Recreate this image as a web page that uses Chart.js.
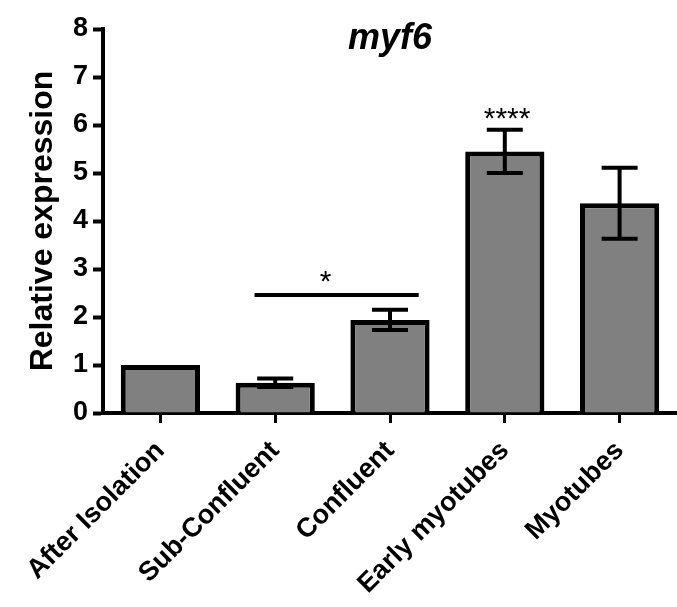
<!DOCTYPE html>
<html>
<head>
<meta charset="utf-8">
<script src="https://cdn.jsdelivr.net/npm/chart.js@4/dist/chart.umd.min.js"></script>
<style>
    html, body { margin: 0; padding: 0; background: #fff; }
    #wrap { width: 677px; height: 607px; }
</style>
</head>
<body>
<div id="wrap"><canvas id="myf6Chart" width="677" height="607"></canvas></div>
<script>
// Values
const stages = ['After Isolation', 'Sub-Confluent', 'Confluent', 'Early myotubes', 'Myotubes'];
const meanExpression = [1.0, 0.63, 1.94, 5.45, 4.37];
const errExpression = [0, 0.09, 0.21, 0.45, 0.74];
const yTicks = [0, 1, 2, 3, 4, 5, 6, 7, 8];

// significance marks: bracket (category index range, y value) and star labels
const sigBracket = { from: 0.82, to: 2.25, y: 2.46 };
const sigLabels = ['*', '****'];
const sigLabelX = [1.44, 3.02];
const sigLabelY = [2.9, 6.3];

const FONT = "'Liberation Sans', Arial, sans-serif";
Chart.defaults.color = '#000';
Chart.defaults.font.family = FONT;

// Draw error bars (mean +/- err) from the data arrays
const errorBarPlugin = {
    id: 'errorBars',
    afterDatasetsDraw(chart) {
        const ctx = chart.ctx;
        const x = chart.scales.x, y = chart.scales.y;
        ctx.save();
        ctx.strokeStyle = '#000';
        ctx.lineWidth = 4;
        ctx.lineCap = 'butt';
        meanExpression.forEach((m, i) => {
            const e = errExpression[i];
            if (!e) return;
            const cx = x.getPixelForValue(i);
            const top = y.getPixelForValue(m + e);
            const bot = y.getPixelForValue(m - e);
            const half = 18;
            ctx.beginPath();
            ctx.moveTo(cx, top); ctx.lineTo(cx, bot);
            ctx.moveTo(cx - half, top); ctx.lineTo(cx + half, top);
            ctx.moveTo(cx - half, bot); ctx.lineTo(cx + half, bot);
            ctx.stroke();
        });
        ctx.restore();
    }
};

// Title, significance bracket and stars
const annotationPlugin = {
    id: 'annotations',
    afterDraw(chart) {
        const ctx = chart.ctx;
        const x = chart.scales.x, y = chart.scales.y;
        const area = chart.chartArea;
        ctx.save();
        ctx.fillStyle = '#000';
        ctx.textAlign = 'center';
        ctx.textBaseline = 'alphabetic';
        ctx.font = 'italic bold 36px ' + FONT;
        ctx.fillText('myf6', (area.left + area.right) / 2, area.top + 20);

        ctx.strokeStyle = '#000';
        ctx.lineWidth = 4;
        ctx.beginPath();
        const by = y.getPixelForValue(sigBracket.y);
        ctx.moveTo(x.getPixelForValue(sigBracket.from), by);
        ctx.lineTo(x.getPixelForValue(sigBracket.to), by);
        ctx.stroke();

        const fs = 30;
        ctx.font = fs + 'px ' + FONT;
        sigLabels.forEach((s, i) => {
            ctx.fillText(s, x.getPixelForValue(sigLabelX[i]), y.getPixelForValue(sigLabelY[i]) + 0.58 * fs);
        });
        ctx.restore();
    }
};

const ctx = document.getElementById('myf6Chart').getContext('2d');
const chart = new Chart(ctx, {
    type: 'bar',
    data: {
        labels: stages,
        datasets: [{
            data: meanExpression,
            backgroundColor: '#808080',
            borderColor: '#000',
            borderWidth: 5,
            borderSkipped: 'start',
            barPercentage: 0.69,
            categoryPercentage: 1.0
        }]
    },
    options: {
        responsive: false,
        animation: false,
        layout: { padding: { top: 29, right: 0, left: 0, bottom: 0 } },
        plugins: {
            legend: { display: false },
            tooltip: { enabled: false }
        },
        scales: {
            x: {
                offset: true,
                afterFit: (scale) => { scale.height = 194; },
                grid: {
                    offset: false,
                    drawOnChartArea: false,
                    drawTicks: true,
                    tickLength: 10,
                    tickWidth: 3,
                    tickColor: '#000'
                },
                border: { display: true, color: '#000', width: 4 },
                ticks: {
                    autoSkip: false,
                    minRotation: 45,
                    maxRotation: 45,
                    padding: 12,
                    color: '#000',
                    font: { size: 27, weight: 'bold', family: FONT }
                }
            },
            y: {
                min: 0,
                max: 8,
                afterFit: (scale) => { scale.width = 103; },
                afterBuildTicks: (scale) => { scale.ticks = yTicks.map(v => ({ value: v })); },
                grid: {
                    drawOnChartArea: false,
                    drawTicks: true,
                    tickLength: 10,
                    tickWidth: 4,
                    tickColor: '#000'
                },
                border: { display: true, color: '#000', width: 4 },
                ticks: {
                    padding: 5,
                    color: '#000',
                    font: { size: 27, weight: 'bold', family: FONT }
                },
                title: {
                    display: true,
                    text: 'Relative expression',
                    color: '#000',
                    padding: { top: 24, bottom: 0 },
                    font: { size: 32, weight: 'bold', family: FONT }
                }
            }
        }
    },
    plugins: [errorBarPlugin, annotationPlugin]
});
</script>
</body>
</html>
